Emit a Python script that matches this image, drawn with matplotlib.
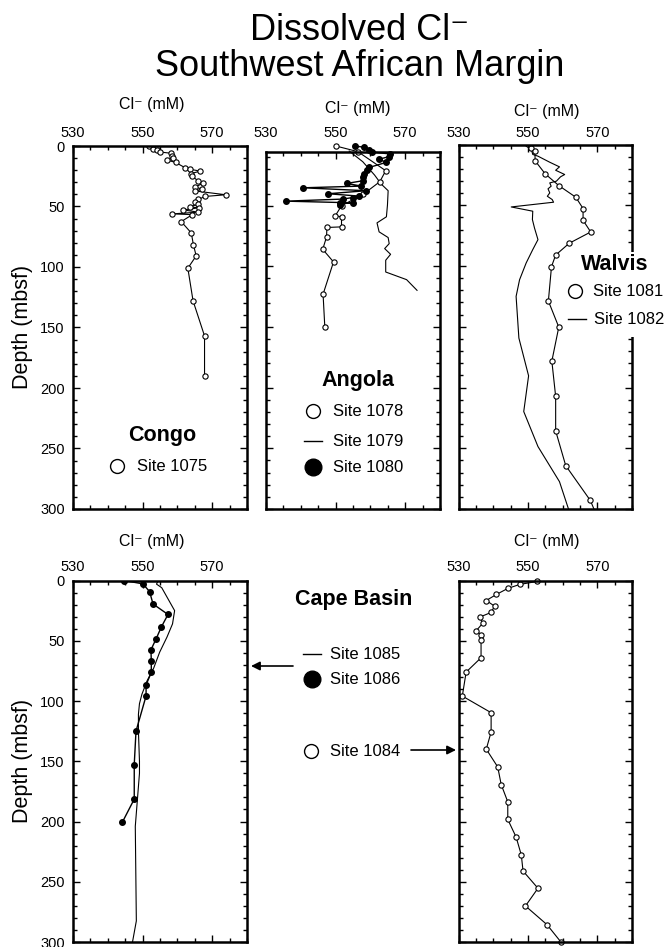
import matplotlib
matplotlib.use('Agg')
import matplotlib.pyplot as plt
from matplotlib.ticker import MultipleLocator
from matplotlib.lines import Line2D
from matplotlib.patches import Rectangle, FancyArrowPatch

plt.rcParams['font.family'] = ['Liberation Sans', 'DejaVu Sans']

# Congo, Site 1075 (open circles)
d1075 = [0, 2.2, 3.6, 5, 6, 8, 9.7, 11.7, 13.6, 17.8, 19.2, 20.8, 22.8, 25, 28.9, 30.6, 33.9, 35.6, 37.2,
         40.3, 41.7, 44.2, 46.4, 47.8, 50.3, 51.1, 52.8, 54.7, 56.1, 56.7, 62.5, 71.9, 81.7, 90.8, 101,
         128, 157, 190]
cl1075 = [551.7, 552.9, 554.0, 555.1, 558.2, 558.5, 558.8, 557.1, 559.5, 562.1, 563.6, 566.6, 563.8, 564.2,
          566.0, 567.4, 565.2, 567.0, 565.2, 573.9, 567.9, 566.0, 565.0, 566.0, 563.7, 566.1, 561.7, 566.0,
          558.5, 564.3, 561.1, 564.0, 564.6, 565.4, 563.0, 564.5, 567.8, 567.8]

# Angola
d1078 = [0.8, 5.5, 21.2, 30.3, 40.5, 50.1, 58.4, 59.2, 67.5, 68, 75.8, 86, 96.4, 123, 150]
cl1078 = [550, 556.4, 564.4, 562.7, 558, 551.7, 549.9, 551.7, 551.7, 547.5, 547.4, 546.3, 549.4, 546.4, 546.9]

d1079 = [5, 13.8, 24.8, 32.2, 37.7, 49.6, 59.2, 64.2, 71.6, 76.3, 81.3, 85.4, 90.1, 95, 104.7, 111, 119.8]
cl1079 = [553.9, 557.8, 561.2, 563.1, 565.1, 564.9, 564.6, 561.9, 562.5, 565.1, 565.4, 564.1, 565.8, 564.4,
          564.4, 570.4, 573.4]

d1080 = [0.8, 1.9, 4.1, 5.8, 7.4, 9.6, 11.8, 14.3, 18.5, 20.7, 24, 26.7, 29.5, 31.7, 33.9, 35.3, 37.7, 40.2,
         42.1, 43.3, 44.6, 46.3, 47.7, 48.2, 49.6]
cl1080 = [555.6, 558.1, 559.7, 560.4, 565.6, 565.4, 562.4, 564.6, 559.7, 559.0, 558.3, 557.8, 557.8, 553.2,
          557.4, 540.7, 558.8, 547.8, 556.6, 554.9, 552.1, 535.7, 555.1, 551.4, 551.2]

# Walvis
d1081 = [2.7, 5.5, 13.5, 24.2, 33.8, 43.4, 52.7, 62.4, 72, 81.3, 91, 100.5, 128.8, 150.3, 178.3, 207.4,
         235.7, 264.3, 293, 310]
cl1081 = [550.9, 552, 552.1, 555, 558.9, 563.8, 565.9, 565.9, 568.1, 561.9, 558, 556.8, 555.9, 558.9, 556.9,
          558, 558, 560.9, 568, 570.5]

d1082 = [1.4, 4.1, 8.2, 9.6, 14.6, 18.4, 21.2, 24.7, 26.6, 30.2, 31.6, 34.3, 36.5, 39.8, 42.6, 45.3, 47.5,
         51.4, 54.9, 61.8, 68.7, 78.3, 86.5, 97.5, 111.3, 125, 159.3, 190.4, 219.8, 248.6, 277.5, 300]
cl1082 = [549.5, 551, 551.4, 552.9, 556.3, 559.1, 558, 560.6, 559.4, 558.2, 556.3, 556.7, 555.8, 556.3, 555.6,
          557, 557.4, 545.2, 551.4, 551.3, 551.9, 552.9, 551.4, 549.5, 547.6, 546.6, 547.4, 550.2, 548.8,
          552.9, 559.1, 561.7]

# Cape Basin
d1085 = [0, 3, 6, 25, 36, 47, 59.5, 72.6, 83.2, 94.4, 102.2, 111, 125, 150, 160, 204, 282.5, 300]
cl1085 = [554.5, 554, 555.5, 559.2, 558.6, 557, 554.9, 553.2, 551.3, 549.8, 549.1, 548.8, 548.8, 549.1,
          549.1, 547.9, 548.2, 547.1]

d1086 = [0, 2.8, 9.2, 19.5, 28.2, 38.5, 48.3, 57.5, 67, 76.3, 86.6, 95.8, 125.1, 152.7, 181.4, 200.5]
cl1086 = [544.7, 550.1, 552, 553, 557.3, 555.4, 553.9, 552.4, 552.5, 552.5, 551, 551, 548.1, 547.6, 547.6,
          544.2]

d1084 = [0.8, 3.3, 6.6, 11.6, 16.6, 21.3, 26.5, 30.4, 35.4, 41.7, 45, 49.2, 64.1, 76, 95.9, 109.7, 125.7,
         140, 154.7, 169.3, 183.7, 198.3, 212.9, 227.8, 241.1, 255.4, 270.1, 285.6, 299.6]
cl1084 = [552.6, 547.6, 544.2, 540.9, 538, 540.4, 539.4, 536.1, 537, 535.1, 536.5, 536.5, 536.5, 532.2,
          531.1, 539.4, 539.4, 538, 541.3, 542.3, 544.2, 544.2, 546.6, 548.1, 548.6, 552.9, 549.3, 555.5,
          559.4]

xticks = [530, 550, 570]
cl_label = 'Cl\u207b (mM)'

W, H = 665, 947
fig = plt.figure(figsize=(W / 100, H / 100), dpi=100)


def fx(px):
    return px / W


def fy(py):
    return 1 - py / H


def panel(l, t, r, b, ylim=(300, 0), ylabels=False, tpad=4.5):
    ax = fig.add_axes([l / W, 1 - b / H, (r - l) / W, (b - t) / H])
    ax.set_xlim(530, 580)
    ax.set_ylim(*ylim)
    ax.set_xticks(xticks)
    ax.xaxis.set_minor_locator(MultipleLocator(5))
    ax.yaxis.set_major_locator(MultipleLocator(50))
    ax.yaxis.set_minor_locator(MultipleLocator(10))
    ax.tick_params(which='both', direction='in', top=True, right=True, bottom=True, left=True,
                   labeltop=True, labelbottom=False, labelleft=ylabels, width=1.0, labelsize=10.5)
    ax.tick_params(which='major', length=5)
    ax.tick_params(which='minor', length=3)
    ax.tick_params(axis='x', which='major', pad=tpad)
    ax.tick_params(axis='y', which='major', pad=6)
    for s in ax.spines.values():
        s.set_linewidth(1.8)
    return ax


open_kw = dict(color='black', lw=0.8, marker='o', ms=3.8, mfc='white', mec='black', mew=0.8)
fill_kw = dict(color='black', lw=1.0, marker='o', ms=4.0, mfc='black', mec='black')

# top row
ax1 = panel(73, 146, 247, 509, ylabels=True)
ax1.plot(cl1075, d1075, **open_kw)

ax2 = panel(266, 152, 440, 509, ylim=(300, 5.8), tpad=8.5)
ax2.plot(cl1079, d1079, color='black', lw=0.8, clip_on=False)
ax2.plot(cl1078, d1078, clip_on=False, **open_kw)
ax2.plot(cl1080, d1080, clip_on=False, **fill_kw)

ax3 = panel(458.5, 144.5, 632, 509, tpad=3.5)
ax3.plot(cl1082, d1082, color='black', lw=0.8)
ax3.plot(cl1081, d1081, **open_kw)

# bottom row
ax4 = panel(73, 580.5, 247, 942, ylabels=True)
ax4.plot(cl1085, d1085, color='black', lw=0.8)
ax4.plot(cl1086, d1086, **fill_kw)

ax5 = panel(458.5, 580.5, 632, 942)
ax5.plot(cl1084, d1084, clip_on=False, **open_kw)

# axis labels
for x, y in [(152, 105), (358, 108), (547, 111.5), (152, 541), (547, 541)]:
    fig.text(fx(x), fy(y), cl_label, fontsize=11.5, ha='center', va='center')
for y in [327, 761]:
    fig.text(fx(22.5), fy(y), 'Depth (mbsf)', fontsize=15.5, rotation=90, ha='center', va='center')

# title
fig.text(fx(360), fy(31), 'Dissolved Cl\u207b', fontsize=26, ha='center', va='center')
fig.text(fx(360), fy(66), 'Southwest African Margin', fontsize=26, ha='center', va='center')


# legends
def key(px, py, style, label, lx):
    if style == 'open':
        fig.add_artist(Line2D([fx(px)], [fy(py)], marker='o', ms=10, mfc='white', mec='black', mew=1.0,
                              transform=fig.transFigure, zorder=4))
    elif style == 'fill':
        fig.add_artist(Line2D([fx(px)], [fy(py)], marker='o', ms=12, mfc='black', mec='black',
                              transform=fig.transFigure, zorder=4))
    else:
        fig.add_artist(Line2D([fx(px - 9), fx(px + 9)], [fy(py), fy(py)], color='black', lw=1.0,
                              transform=fig.transFigure, zorder=4))
    fig.text(fx(lx), fy(py), label, fontsize=12, ha='left', va='center', zorder=5)


def title(px, py, s):
    fig.text(fx(px), fy(py), s, fontsize=15.5, fontweight='bold', ha='center', va='center', zorder=5)


title(162, 435, 'Congo')
key(117, 466.5, 'open', 'Site 1075', 137)

title(358, 380, 'Angola')
key(313, 411, 'open', 'Site 1078', 333)
key(313, 441.5, 'line', 'Site 1079', 333)
key(313, 467.5, 'fill', 'Site 1080', 333)

fig.add_artist(Rectangle((fx(567), fy(337)), fx(98), 85 / H, transform=fig.transFigure,
                         facecolor='white', edgecolor='none', zorder=3))
title(615, 265, 'Walvis')
key(575, 291, 'open', 'Site 1081', 593)
key(577, 319, 'line', 'Site 1082', 594)

title(354, 600, 'Cape Basin')
key(312, 654, 'line', 'Site 1085', 330)
key(312, 679, 'fill', 'Site 1086', 330)
key(311, 751, 'open', 'Site 1084', 330)

for a, b, y in [(293, 251, 666), (411, 456, 750)]:
    fig.add_artist(FancyArrowPatch((fx(a), fy(y)), (fx(b), fy(y)), transform=fig.transFigure,
                                   arrowstyle='-|>', mutation_scale=13, lw=1.2, color='black',
                                   shrinkA=0, shrinkB=0, zorder=4))

fig.savefig('out.png', dpi=100)
